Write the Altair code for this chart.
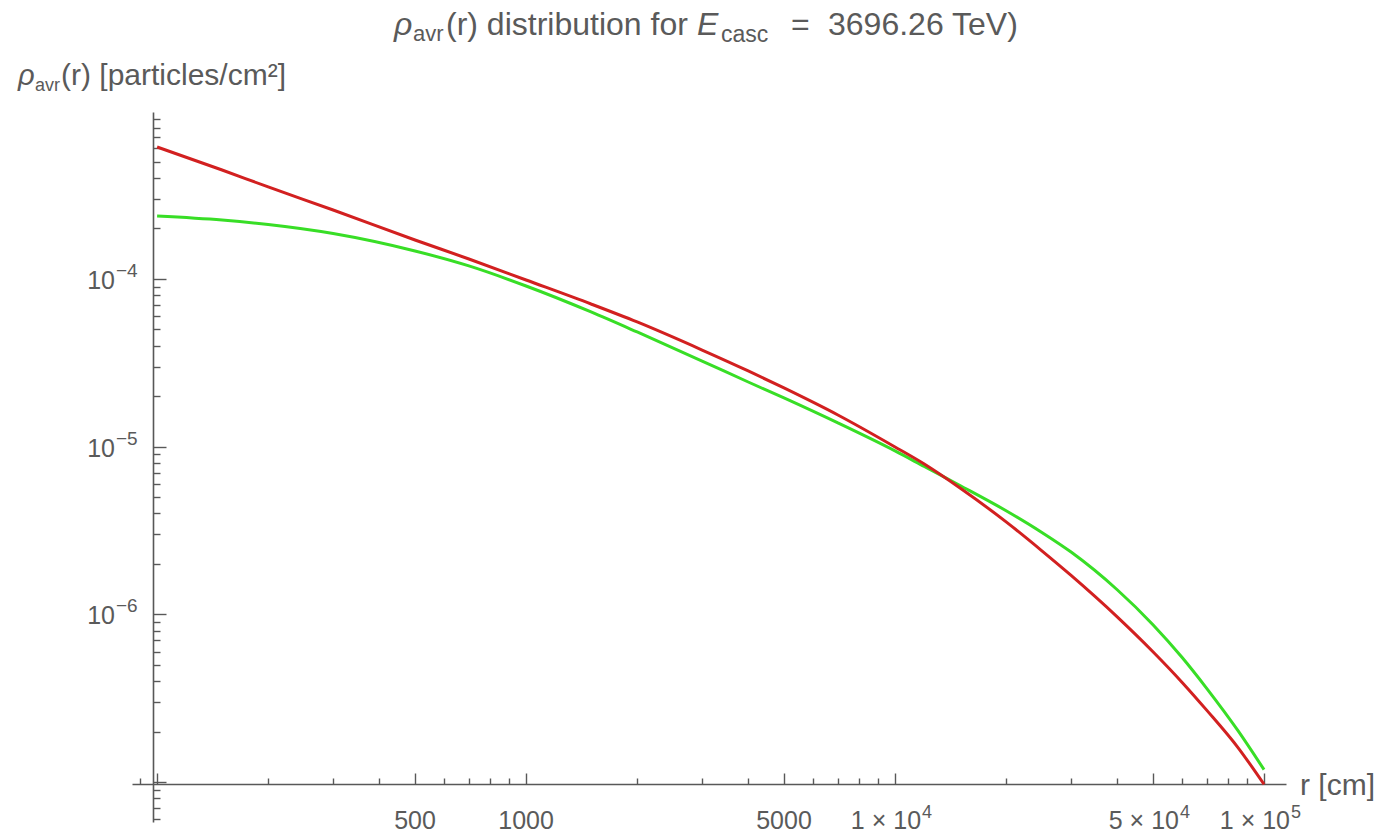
import altair as alt
import pandas as pd

# Radial distance from the cascade axis [cm]
r_cm = [100, 150, 200, 300, 500, 700, 1000, 1500, 2000, 3000, 4000, 5000,
        7000, 10000, 12000, 15000, 20000, 25000, 30000, 40000, 50000, 60000,
        70000, 85000, 100000]

# Average particle density [particles/cm^2] for the two profiles
rho_red = [6.125e-4, 4.467e-4, 3.537e-4, 2.578e-4, 1.708e-4, 1.316e-4,
           9.86e-5, 7.09e-5, 5.54e-5, 3.77e-5, 2.83e-5, 2.24e-5, 1.545e-5,
           9.96e-6, 7.88e-6, 5.67e-6, 3.56e-6, 2.394e-6, 1.708e-6, 9.67e-7,
           5.99e-7, 3.93e-7, 2.676e-7, 1.606e-7, 9.7e-8]
rho_green = [2.375e-4, 2.247e-4, 2.113e-4, 1.867e-4, 1.469e-4, 1.196e-4,
             9.08e-5, 6.36e-5, 4.83e-5, 3.24e-5, 2.43e-5, 1.952e-5, 1.385e-5,
             9.43e-6, 7.62e-6, 5.87e-6, 4.15e-6, 3.08e-6, 2.352e-6, 1.402e-6,
             8.68e-7, 5.53e-7, 3.61e-7, 2.025e-7, 1.186e-7]

# Axis ticks
x_major = [100, 500, 1000, 5000, 10000, 50000, 100000]
x_minor = [90, 200, 300, 400, 600, 700, 800, 900, 2000, 3000, 4000, 6000,
           7000, 8000, 9000, 20000, 30000, 40000, 60000, 70000, 80000, 90000]
y_major = [1e-7, 1e-6, 1e-5, 1e-4]
y_minor = [m * 10.0 ** e for e in (-8, -7, -6, -5, -4) for m in range(2, 10)
           if 5.9e-8 < m * 10.0 ** e < 9.5e-4]

# Tick labels: plain numbers, and mantissa/exponent pairs
x_plain_values = [500, 1000, 5000]
x_plain_text = ["500", "1000", "5000"]
x_pow_values = [10000, 50000, 100000]
x_pow_mantissa = ["1 × 10", "5 × 10", "1 × 10"]
x_pow_exponent = ["4", "4", "5"]
y_label_values = [1e-6, 1e-5, 1e-4]
y_label_exponent = ["−6", "−5", "−4"]

RED = "#d22020"
GREEN = "#38de26"
AXIS = "#585858"
TEXT = "#5a5a5a"
FONT = "Liberation Sans"

W, H = 1154, 710
LEFT, TOP = 132, 112
X_AXIS_Y = 784            # page row of the horizontal axis line
Y_AXIS_X = 153            # page column of the vertical axis line

red_df = pd.DataFrame({"r": r_cm, "rho": rho_red})
green_df = pd.DataFrame({"r": r_cm, "rho": rho_green})
all_df = pd.concat([red_df, green_df], ignore_index=True)

xscale = alt.Scale(type="log", domain=[85.5, 114700], nice=False)
yscale = alt.Scale(type="log", domain=[5.78e-8, 9.9e-4], nice=False)


def tick_size(major, big, small):
    return {"condition": {"test": f"indexof({list(major)!r}, datum.value) >= 0",
                          "value": big},
            "value": small}


# Axis lines (crossing inside the frame, no labels)
x_line_axis = alt.Axis(orient="bottom", offset=-(TOP + H - X_AXIS_Y), ticks=False,
                       labels=False, grid=False, title=None,
                       domainColor=AXIS, domainWidth=1.6)
y_line_axis = alt.Axis(orient="left", offset=-(Y_AXIS_X - LEFT), ticks=False,
                       labels=False, grid=False, title=None,
                       domainColor=AXIS, domainWidth=1.6)

# Inward-pointing ticks
x_tick_axis = alt.Axis(orient="top", offset=-(X_AXIS_Y - TOP),
                       values=sorted(x_major + x_minor),
                       labels=False, domain=False, grid=False, title=None,
                       tickColor=AXIS, tickWidth=1.4,
                       tickSize=tick_size(x_major, 11, 6))
y_tick_axis = alt.Axis(orient="right", offset=-(LEFT + W - Y_AXIS_X),
                       values=sorted(y_major + y_minor),
                       labels=False, domain=False, grid=False, title=None,
                       tickColor=AXIS, tickWidth=1.4,
                       tickSize=tick_size(y_major, 13, 7))

green_line = alt.Chart(green_df).mark_line(
    color=GREEN, strokeWidth=3, interpolate="monotone"
).encode(
    x=alt.X("r:Q", scale=xscale, axis=x_line_axis),
    y=alt.Y("rho:Q", scale=yscale, axis=y_line_axis),
)

red_line = alt.Chart(red_df).mark_line(
    color=RED, strokeWidth=3, interpolate="monotone"
).encode(
    x=alt.X("r:Q", scale=xscale, axis=None),
    y=alt.Y("rho:Q", scale=yscale, axis=None),
)

tick_layer = alt.Chart(all_df).mark_point(opacity=0).encode(
    x=alt.X("r:Q", scale=xscale, axis=x_tick_axis),
    y=alt.Y("rho:Q", scale=yscale, axis=y_tick_axis),
)

# Tick labels placed through the shared scales
label_style = dict(font=FONT, color=TEXT)
x_plain_df = pd.DataFrame({"v": x_plain_values, "t": x_plain_text})
x_pow_df = pd.DataFrame({"v": x_pow_values, "m": x_pow_mantissa, "e": x_pow_exponent})
y_lab_df = pd.DataFrame({"v": y_label_values, "e": y_label_exponent})

x_plain = alt.Chart(x_plain_df).mark_text(
    align="center", baseline="alphabetic", fontSize=25, **label_style
).encode(x=alt.X("v:Q", scale=xscale, axis=None), y=alt.value(829 - TOP), text="t:N")

x_mant = alt.Chart(x_pow_df).mark_text(
    align="right", baseline="alphabetic", fontSize=25, dx=26, **label_style
).encode(x=alt.X("v:Q", scale=xscale, axis=None), y=alt.value(829 - TOP), text="m:N")

x_exp = alt.Chart(x_pow_df).mark_text(
    align="left", baseline="alphabetic", fontSize=18, dx=27, **label_style
).encode(x=alt.X("v:Q", scale=xscale, axis=None), y=alt.value(818 - TOP), text="e:N")

y_base = alt.Chart(y_lab_df).mark_text(
    align="right", baseline="middle", fontSize=25, dy=2, text="10", **label_style
).encode(y=alt.Y("v:Q", scale=yscale, axis=None), x=alt.value(115 - LEFT))

y_exp = alt.Chart(y_lab_df).mark_text(
    align="left", baseline="middle", fontSize=19, dy=-8, **label_style
).encode(y=alt.Y("v:Q", scale=yscale, axis=None), x=alt.value(116 - LEFT), text="e:N")


def text_piece(text, x, y, size, italic=False):
    return alt.Chart(pd.DataFrame({"k": [0]})).mark_text(
        text=text, align="left", baseline="alphabetic", font=FONT,
        fontSize=size, fontStyle="italic" if italic else "normal", color=TEXT,
    ).encode(x=alt.value(x - LEFT), y=alt.value(y - TOP))


texts = [
    # plot title
    text_piece("ρ", 394, 35, 32, italic=True),
    text_piece("avr", 413, 41, 22),
    text_piece("(r) distribution for", 446, 35, 32),
    text_piece("E", 697, 35, 32, italic=True),
    text_piece("casc", 721, 42, 23),
    text_piece("=", 791, 35, 32),
    text_piece("3696.26 TeV)", 828, 35, 32),
    # vertical axis label
    text_piece("ρ", 18, 85, 29, italic=True),
    text_piece("avr", 35, 91, 18),
    text_piece("(r) [particles/cm²]", 61, 85, 30),
    # horizontal axis label
    text_piece("r [cm]", 1300, 795, 30),
]

chart = alt.layer(
    green_line, red_line, tick_layer, x_plain, x_mant, x_exp, y_base, y_exp, *texts
).resolve_axis(
    x="independent", y="independent"
).properties(
    width=W, height=H,
    autosize=alt.AutoSizeParams(type="none"),
    padding={"left": LEFT, "top": TOP, "right": 1384 - LEFT - W, "bottom": 835 - TOP - H},
    background="white",
).configure_view(stroke=None)

chart.save("out.html", embed_options={"renderer": "svg", "actions": False})
